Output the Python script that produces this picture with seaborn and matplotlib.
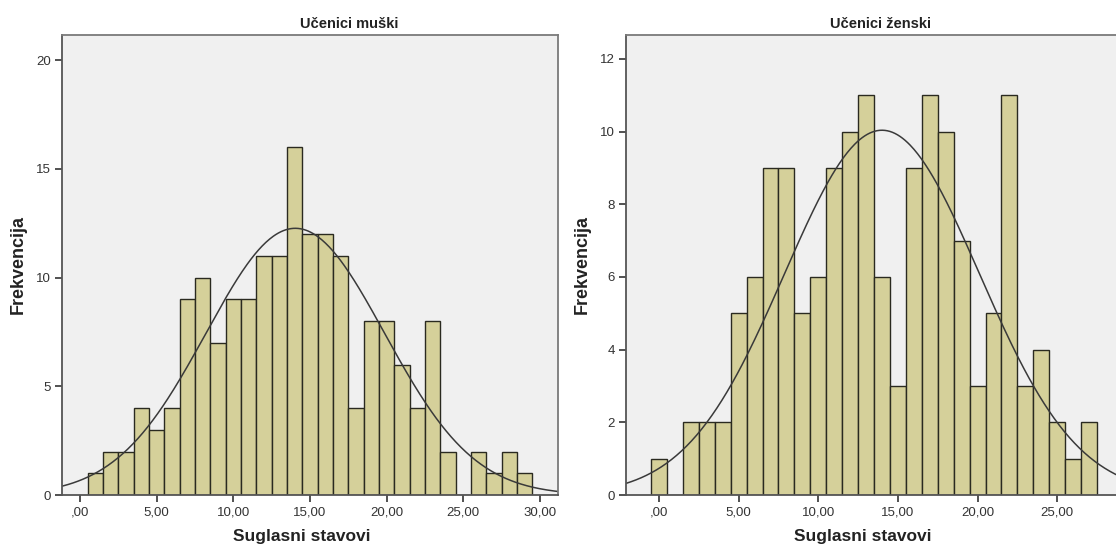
import numpy as np
import pandas as pd
import seaborn as sns
import matplotlib.pyplot as plt
from matplotlib.ticker import FuncFormatter

sns.set_style("white")
plt.rcParams['font.family'] = ['Liberation Sans', 'DejaVu Sans']

# frequencies per integer score (bins centred on the integers)
male_scores = np.arange(1, 30)
male_counts = [1, 2, 2, 4, 3, 4, 9, 10, 7, 9, 9, 11, 11, 16, 12,
               12, 11, 4, 8, 8, 6, 4, 8, 2, 0, 2, 1, 2, 1]
female_scores = np.arange(0, 28)
female_counts = [1, 0, 2, 2, 2, 5, 6, 9, 9, 5, 6, 9, 10, 11, 6,
                 3, 9, 11, 10, 7, 3, 5, 11, 3, 4, 2, 1, 2]

titles = ["Učenici muški", "Učenici ženski"]
xlabel = "Suglasni stavovi"
ylabel = "Frekvencija"

bar_color = "#d5d09a"
edge_color = "#2a2a20"
bg_color = "#f0f0f0"
frame_color = "#7a7a7a"

W, H = 1116, 552
fig = plt.figure(figsize=(W / 100, H / 100), dpi=100)


def px_axes(x0, x1, y0, y1):
    return fig.add_axes([x0 / W, 1 - y1 / H, (x1 - x0) / W, (y1 - y0) / H])


def xfmt(v, pos):
    s = "%.2f" % v
    s = s.replace(".", ",")
    if s.startswith("0"):
        s = s[1:]
    return s


panels = [
    dict(scores=male_scores, counts=male_counts, box=(62, 558, 35, 495),
         xlim=(-1.17, 31.17), ylim=(0, 21.15), yticks=[0, 5, 10, 15, 20],
         xticks=[0, 5, 10, 15, 20, 25, 30], title_x=0.58, ylab_x=18),
    dict(scores=female_scores, counts=female_counts, box=(626, 1130, 35, 495),
         xlim=(-2.07, 29.57), ylim=(0, 12.66), yticks=[0, 2, 4, 6, 8, 10, 12],
         xticks=[0, 5, 10, 15, 20, 25], title_x=0.505, ylab_x=582),
]

for p, title in zip(panels, titles):
    ax = px_axes(*p["box"])
    ax.set_facecolor(bg_color)
    df = pd.DataFrame({"score": p["scores"], "n": p["counts"]})
    sns.histplot(data=df, x="score", weights="n", discrete=True, ax=ax,
                 color=bar_color, alpha=1, edgecolor=edge_color, linewidth=1.0)

    # normal curve from the sample mean / sd
    n_tot = df["n"].sum()
    mu = np.average(df["score"], weights=df["n"])
    sd = np.sqrt(np.average((df["score"] - mu) ** 2, weights=df["n"]) * n_tot / (n_tot - 1))
    xs = np.linspace(p["xlim"][0], p["xlim"][1], 400)
    ys = n_tot * 1.0 / (sd * np.sqrt(2 * np.pi)) * np.exp(-0.5 * ((xs - mu) / sd) ** 2)
    ax.plot(xs, ys, color="#3a3a3a", lw=1.1)

    ax.set_xlim(*p["xlim"])
    ax.set_ylim(*p["ylim"])
    ax.set_xticks(p["xticks"])
    ax.set_yticks(p["yticks"])
    ax.xaxis.set_major_formatter(FuncFormatter(xfmt))
    ax.tick_params(axis="both", direction="out", length=5, width=1.2,
                   color="#333333", labelsize=9.5, labelcolor="#333333", pad=3,
                   bottom=True, left=True)
    for sp in ax.spines.values():
        sp.set_color(frame_color)
        sp.set_linewidth(1.3)
    ax.spines["left"].set_color("#555555")
    ax.spines["bottom"].set_color("#555555")

    ax.set_xlabel("")
    ax.set_ylabel("")
    ax.set_title(title, x=p["title_x"], fontsize=10.5, fontweight="bold",
                 color="#222222", pad=5)
    x0, x1, y0, y1 = p["box"]
    fig.text(((x0 + min(x1, W)) / 2 - 8) / W, 1 - 537 / H, xlabel, ha="center",
             va="center", fontsize=12.5, fontweight="bold", color="#222222")
    fig.text(p["ylab_x"] / W, 1 - 265 / H, ylabel, ha="center", va="center",
             rotation=90, fontsize=13, fontweight="bold", color="#222222")

fig.savefig("out.png", dpi=100, facecolor="white")
